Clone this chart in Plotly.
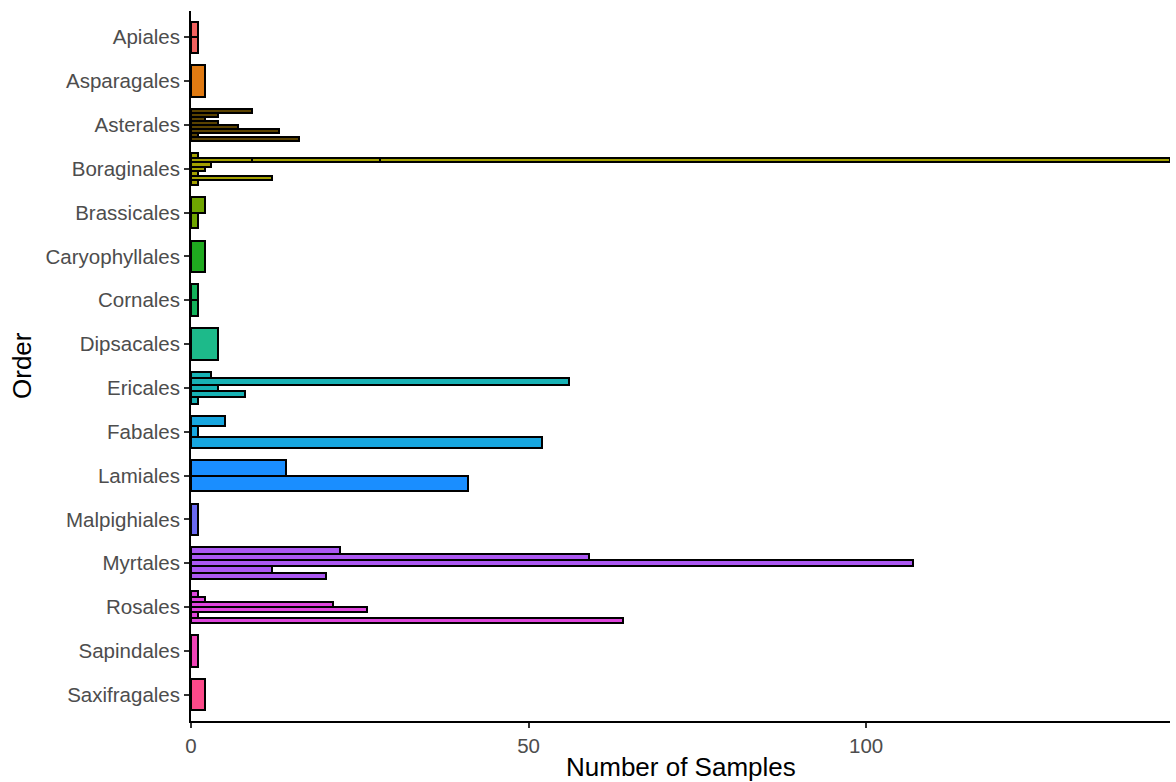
import plotly.graph_objects as go

# Plant orders, top to bottom
orders = ["Apiales", "Asparagales", "Asterales", "Boraginales", "Brassicales",
          "Caryophyllales", "Cornales", "Dipsacales", "Ericales", "Fabales",
          "Lamiales", "Malpighiales", "Myrtales", "Rosales", "Sapindales",
          "Saxifragales"]

# Sample counts per family within each order (dodged slots, top to bottom);
# a tuple means several records sharing the same slot (drawn overlapping)
apiales = [1, 1]
asparagales = [2]
asterales = [9, 4, 2, 4, 7, 13, 1, 16]
boraginales = [1, (145, 28, 9), 3, 2, 1, 12, 1]
brassicales = [2, 1]
caryophyllales = [2]
cornales = [1, 1]
dipsacales = [4]
ericales = [3, 56, 4, 8, 1]
fabales = [5, 1, 52]
lamiales = [14, 41]
malpighiales = [1]
myrtales = [22, 59, 107, 12, 20]
rosales = [1, 2, 21, 26, 1, 64]
sapindales = [1]
saxifragales = [2]

counts = [apiales, asparagales, asterales, boraginales, brassicales,
          caryophyllales, cornales, dipsacales, ericales, fabales, lamiales,
          malpighiales, myrtales, rosales, sapindales, saxifragales]

colors = ["#F2625F", "#E07A12", "#5A4200", "#A3A000", "#6FA500",
          "#1FAA1F", "#12B25A", "#1DBA8A", "#17B2B5", "#17A6DF",
          "#1A8EFF", "#6A6AF2", "#AC58F2", "#DE45DC", "#F043B6",
          "#FC4A8A"]

x_ticks = [0, 50, 100]
x_max = 145

GROUP_WIDTH = 0.72

fig = go.Figure()
for idx, (name, slots, col) in enumerate(zip(orders, counts, colors)):
    n = len(slots)
    h = GROUP_WIDTH / n
    layers = {}
    for j, s in enumerate(slots):
        vals = sorted(s, reverse=True) if isinstance(s, tuple) else [s]
        pos = idx - GROUP_WIDTH / 2 + (j + 0.5) * h
        for k, v in enumerate(vals):
            layers.setdefault(k, ([], []))
            layers[k][0].append(v)
            layers[k][1].append(pos)
    for k in sorted(layers):
        xs, ys = layers[k]
        fig.add_trace(go.Bar(
            x=xs, y=ys, orientation="h", width=h,
            marker=dict(color=col, line=dict(color="black", width=2.0)),
            showlegend=False, hoverinfo="x+name", name=name,
        ))

tick_font = dict(family="Liberation Sans, Arial, sans-serif", size=20.5, color="#4D4D4D")
title_font = dict(family="Liberation Sans, Arial, sans-serif", size=26, color="black")

fig.update_layout(
    width=1176, height=782,
    margin=dict(l=191, r=6, t=11, b=61),
    paper_bgcolor="white", plot_bgcolor="white",
    barmode="overlay",
    bargap=0,
    xaxis=dict(
        range=[0, x_max], tickvals=x_ticks, ticktext=[str(t) for t in x_ticks],
        showgrid=False, zeroline=False, showline=True, linecolor="black",
        linewidth=1.8, ticks="outside", ticklen=5, tickwidth=1.6,
        tickcolor="#333333", tickfont=tick_font, automargin=False,
    ),
    yaxis=dict(
        range=[15.6, -0.6], tickvals=list(range(len(orders))), ticktext=orders,
        showgrid=False, zeroline=False, showline=True, linecolor="black",
        linewidth=1.8, ticks="outside", ticklen=5, tickwidth=1.6,
        tickcolor="#333333", tickfont=tick_font, automargin=False,
    ),
    annotations=[
        dict(text="Number of Samples", xref="paper", yref="paper",
             x=0.5, y=0, yshift=-46, showarrow=False, font=title_font,
             xanchor="center", yanchor="middle"),
        dict(text="Order", xref="paper", yref="paper", x=0, xshift=-169,
             y=0.5, showarrow=False, textangle=-90, font=title_font,
             xanchor="center", yanchor="middle"),
    ],
)

fig.write_html("out.html")
